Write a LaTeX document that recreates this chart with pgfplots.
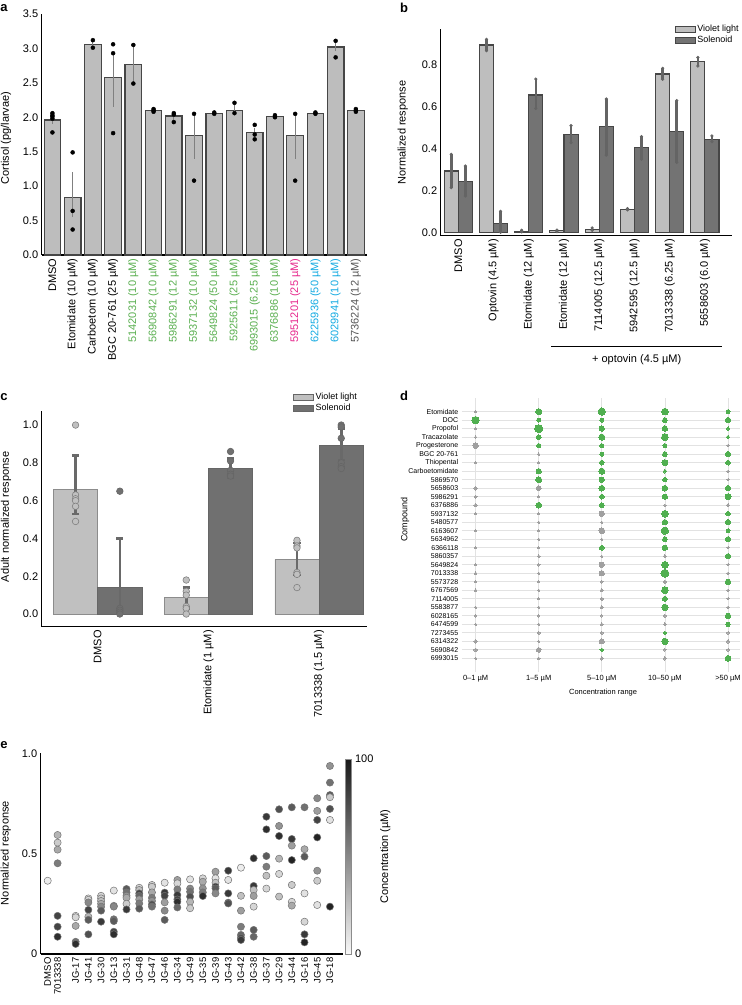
\documentclass[border=0pt]{standalone}
\usepackage{pgfplots}
\pgfplotsset{compat=1.18}
\usepackage{fontspec}
\setmainfont{Liberation Sans}
\newcommand\fs[1]{\fontsize{#1}{#1}\selectfont}
\definecolor{barA}{RGB}{189,189,189}
\definecolor{edgeA}{RGB}{70,70,70}
\definecolor{lgt}{RGB}{190,190,190}
\definecolor{drk}{RGB}{115,115,115}
\definecolor{errB}{RGB}{100,100,100}
\definecolor{lgtC}{RGB}{192,192,192}
\definecolor{drkC}{RGB}{112,112,112}
\definecolor{errC}{RGB}{105,105,105}
\definecolor{gLab}{RGB}{90,175,80}
\definecolor{mLab}{RGB}{230,40,140}
\definecolor{cLab}{RGB}{20,170,225}
\definecolor{kLab}{RGB}{85,85,85}
\definecolor{dGreen}{RGB}{80,175,80}
\definecolor{dGray}{RGB}{160,160,160}
\definecolor{gridc}{RGB}{226,226,226}
\pgfplotsset{
  panel/.style={
    scale only axis,
    anchor=south west,
    axis lines=left,
    axis line style={line width=1.2pt,-},
    major tick length=0pt,
    tick label style={font=\fs{11}},
    label style={font=\fs{11}},
    /pgf/number format/assume math mode=true,
    clip=false,
  },
}
\begin{document}
\begin{tikzpicture}[x=1pt,y=1pt]
\path[use as bounding box] (0,0) rectangle (742,1005);

% ---------------- panel a
\begin{axis}[panel, at={(41.7pt,750pt)}, width=325.3pt, height=241pt,
  xmin=-0.53, xmax=15.55, ymin=0, ymax=3.5,
  ytick={0,0.5,1,1.5,2,2.5,3,3.5},
  yticklabel style={/pgf/number format/.cd,fixed,fixed zerofill,precision=1},
  xtick={0,...,15},
  xticklabels={{DMSO},{Etomidate (10 µM)},{Carboetom (10 µM)},{BGC 20-761 (25 µM)},{\textcolor{gLab}{5142031 (10 µM)}},{\textcolor{gLab}{5690842 (10 µM)}},{\textcolor{gLab}{5986291 (12 µM)}},{\textcolor{gLab}{5937132 (10 µM)}},{\textcolor{gLab}{5649824 (50 µM)}},{\textcolor{gLab}{5925611 (25 µM)}},{\textcolor{gLab}{6993015 (6.25 µM)}},{\textcolor{gLab}{6376886 (10 µM)}},{\textcolor{mLab}{5951201 (25 µM)}},{\textcolor{cLab}{6225936 (50 µM)}},{\textcolor{cLab}{6029941 (10 µM)}},{\textcolor{kLab}{5736224 (12 µM)}}},
  xticklabel style={rotate=90, anchor=east},
  ylabel={Cortisol (pg/larvae)},
  ylabel style={at={(axis description cs:-0.11,0.485)}, anchor=center},
]
\addplot[ybar, bar width=0.82, bar shift=0pt, fill=barA, draw=edgeA, line width=1.2pt,
  error bars/.cd, y dir=both, y explicit, error mark=none,
  error bar style={line width=0.9pt, color=gray}]
  table[x=x, y=y, y error plus=ep, y error minus=em] {
x y ep em
0 1.96 0.05 0.06
1 0.84 0.36 0.29
2 3.06 0.04 0.04
3 2.58 0.35 0.43
4 2.77 0.28 0.28
5 2.10 0.02 0.02
6 2.02 0.03 0.06
7 1.73 0.32 0.33
8 2.06 0.01 0.01
9 2.10 0.11 0.04
10 1.78 0.06 0.06
11 2.01 0.02 0.01
12 1.73 0.32 0.33
13 2.06 0.01 0.01
14 3.02 0.08 0.06
15 2.10 0.02 0.02
};
\addplot[only marks, mark=*, mark size=2pt, black] table {
x y
0 2.06
0 2.03
0 2.01
0 1.98
0 1.78
1 1.49
1 0.64
1 0.37
2 3.12
2 3.01
3 3.06
3 2.93
3 1.77
4 3.05
4 2.49
5 2.12
5 2.10
5 2.08
6 2.06
6 2.04
6 1.93
7 2.05
7 1.08
8 2.07
8 2.05
9 2.21
9 2.06
10 1.89
10 1.75
10 1.68
11 2.03
11 2.00
12 2.05
12 1.08
13 2.07
13 2.05
14 3.11
14 2.87
15 2.12
15 2.10
15 2.08
};
\end{axis}

% ---------------- panel b
\begin{axis}[panel, at={(440.7pt,769.3pt)}, width=291pt, height=206.4pt,
  xmin=-0.5, xmax=7.76, ymin=-0.016, ymax=0.967,
  ytick={0,0.2,0.4,0.6,0.8},
  yticklabel style={/pgf/number format/.cd,fixed,fixed zerofill,precision=1},
  xtick={0,...,7},
  xticklabels={{DMSO},{Optovin (4.5 µM)},{Etomidate (12 µM)},{Etomidate (12 µM)},{7114005 (12.5 µM)},{5942595 (12.5 µM)},{7013338 (6.25 µM)},{5658603 (6.0 µM)}},
  xticklabel style={rotate=90, anchor=east},
  ylabel={Normalized response},
  ylabel style={at={(axis description cs:-0.13,0.5)}, anchor=center},
  legend style={draw=none, fill=none, font=\fs{9}, at={(1.035,1.035)}, anchor=north east, row sep=-1pt, inner sep=1pt},
  legend cell align=left,
]
\addplot[ybar, bar width=0.4, bar shift=0pt, fill=lgt, draw=edgeA, line width=1.1pt, forget plot,
  error bars/.cd, y dir=both, y explicit, error mark=*,
  error mark options={mark size=1.3pt, line width=0.6pt, draw=errB, fill=errB},
  error bar style={line width=2.6pt, color=errB}]
  table[x=x, y=y, y error plus=ep, y error minus=em] {
x y ep em
-0.2 0.292 0.079 0.079
0.8 0.892 0.027 0.027
1.8 0.006 0.004 0.004
2.8 0.007 0.004 0.004
3.8 0.015 0.006 0.006
4.8 0.110 0.003 0.003
5.8 0.754 0.027 0.025
6.8 0.813 0.020 0.021
};
\addplot[ybar, bar width=0.4, bar shift=0pt, fill=drk, draw=edgeA, line width=1.1pt, forget plot,
  error bars/.cd, y dir=both, y explicit, error mark=*,
  error mark options={mark size=1.3pt, line width=0.6pt, draw=errB, fill=errB},
  error bar style={line width=2.6pt, color=errB}]
  table[x=x, y=y, y error plus=ep, y error minus=em] {
x y ep em
0.2 0.241 0.075 0.068
1.2 0.041 0.059 0.041
2.2 0.654 0.076 0.064
3.2 0.468 0.040 0.041
4.2 0.502 0.133 0.134
5.2 0.403 0.053 0.054
6.2 0.479 0.148 0.146
7.2 0.444 0.015 0.012
};
\addlegendimage{legend image code/.code={\draw[fill=lgt, draw=edgeA, line width=0.7pt] (0pt,-3.3pt) rectangle (20pt,3.3pt);}}
\addlegendentry{Violet light}
\addlegendimage{legend image code/.code={\draw[fill=drk, draw=edgeA, line width=0.7pt] (0pt,-3.3pt) rectangle (20pt,3.3pt);}}
\addlegendentry{Solenoid}
\end{axis}
\draw[line width=0.8pt] (551,658.3) -- (721.7,658.3);
\node[font=\fs{11}] at (636.7,645.7) {+ optovin (4.5 µM)};

% ---------------- panel c
\begin{axis}[panel, at={(41.7pt,378.3pt)}, width=325pt, height=216pt,
  xmin=-0.506, xmax=2.43, ymin=-0.067, ymax=1.076,
  ytick={0,0.2,0.4,0.6,0.8,1.0},
  yticklabel style={/pgf/number format/.cd,fixed,fixed zerofill,precision=1},
  xtick={0,1,2},
  xticklabels={{DMSO},{Etomidate (1 µM)},{7013338 (1.5 µM)}},
  xticklabel style={rotate=90, anchor=east},
  ylabel={Adult normalized response},
  ylabel style={at={(axis description cs:-0.11,0.508)}, anchor=center},
  legend style={draw=none, fill=none, font=\fs{9}, at={(0.98,1.096)}, anchor=north east, row sep=-1pt, inner sep=1pt},
  legend cell align=left,
]
\addplot[ybar, bar width=0.4, bar shift=0pt, fill=lgtC, draw=black!45, line width=0.6pt, forget plot,
  error bars/.cd, y dir=both, y explicit, error mark=-,
  error mark options={rotate=90, mark size=3.6pt, line width=2.4pt, draw=errC},
  error bar style={line width=2.6pt, color=errC}]
  table[x=x, y=y, y error plus=ep, y error minus=em] {
x y ep em
-0.2 0.660 0.178 0.131
0.8 0.088 0.052 0.058
1.8 0.289 0.088 0.083
};
\addplot[ybar, bar width=0.4, bar shift=0pt, fill=drkC, draw=black!60, line width=0.6pt, forget plot,
  error bars/.cd, y dir=both, y explicit, error mark=-,
  error mark options={rotate=90, mark size=3.6pt, line width=2.4pt, draw=errC},
  error bar style={line width=2.6pt, color=errC}]
  table[x=x, y=y, y error plus=ep, y error minus=em] {
x y ep em
0.2 0.141 0.258 0.141
1.2 0.771 0.053 0.051
2.2 0.894 0.088 0.079
};
\addplot[only marks, mark=*, mark size=3.3pt, mark options={fill=lgtC, draw=black!50, line width=0.6pt}, forget plot] table {
x y
-0.2 1.00
-0.2 0.63
-0.2 0.61
-0.2 0.60
-0.2 0.57
-0.2 0.49
0.8 0.18
0.8 0.12
0.8 0.10
0.8 0.04
0.8 0.03
0.8 0.00
1.8 0.39
1.8 0.36
1.8 0.35
1.8 0.22
1.8 0.21
1.8 0.14
};
\addplot[only marks, mark=*, mark size=3.3pt, mark options={fill=drkC, draw=black!60, line width=0.6pt}, forget plot] table {
x y
0.2 0.65
0.2 0.03
0.2 0.02
0.2 0.01
0.2 0.00
1.2 0.86
1.2 0.81
1.2 0.76
1.2 0.74
1.2 0.73
2.2 1.00
2.2 0.99
2.2 0.93
2.2 0.80
2.2 0.78
2.2 0.77
};
\addlegendimage{legend image code/.code={\draw[fill=lgtC, draw=black!60, line width=0.7pt] (0pt,-3.3pt) rectangle (20pt,3.3pt);}}
\addlegendentry{Violet light}
\addlegendimage{legend image code/.code={\draw[fill=drkC, draw=black!60, line width=0.7pt] (0pt,-3.3pt) rectangle (20pt,3.3pt);}}
\addlegendentry{Solenoid}
\end{axis}

% ---------------- panel d
\begin{axis}[scale only axis, anchor=south west, at={(461.7pt,333pt)}, width=278.3pt, height=274pt,
  xmin=-0.22, xmax=4.19, ymin=-1.6, ymax=30.6, y dir=reverse,
  axis line style={draw=none}, major tick length=0pt,
  grid=major, grid style={line width=0.8pt, draw=gridc},
  xtick={0,...,4}, xticklabels={{0–1 µM},{1–5 µM},{5–10 µM},{10–50 µM},{>50 µM}},
  ytick={0,...,29},
  yticklabels={{Etomidate},{DOC},{Propofol},{Tracazolate},{Progesterone},{BGC 20-761},{Thiopental},{Carboetomidate},{5869570},{5658603},{5986291},{6376886},{5937132},{5480577},{6163607},{5634962},{6366118},{5860357},{5649824},{7013338},{5573728},{6767569},{7114005},{5583877},{6028165},{6474599},{7273455},{6314322},{5690842},{6993015}},
  xticklabel style={font=\fs{7.5}},
  yticklabel style={font=\fs{7}},
  xlabel={Concentration range}, ylabel={Compound},
  xlabel style={font=\fs{7.5}, at={(axis description cs:0.508,-0.0755)}, anchor=center},
  ylabel style={font=\fs{9}, at={(axis description cs:-0.204,0.555)}, anchor=center},
  clip=false]
\addplot[scatter, only marks, mark=*, draw=dGray, fill=dGray,
  scatter/use mapped color={draw=dGray, fill=dGray, line width=0pt},
  visualization depends on={\thisrow{d}/6 \as \ms},
  scatter/@pre marker code/.append style={/tikz/mark size=\ms, /tikz/draw=dGray, /tikz/fill=dGray, /tikz/line width=0pt}]
  table[x=x, y=y] {
x y d
0 0 7
0 2 7
0 3 7
0 4 16
4 4 7
1 5 7
0 6 7
1 6 7
4 7 7
4 8 7
0 9 11
1 9 14
0 10 9
1 10 7
0 11 10
3 11 7
4 11 9
0 12 7
1 12 7
2 12 16
1 13 7
2 13 7
0 14 7
1 14 7
2 14 17
1 15 7
2 15 7
0 16 7
1 16 6
4 16 7
1 17 8
2 17 7
3 17 9
0 18 7
1 18 8
2 18 16
4 18 7
0 19 8
1 19 7
2 19 16
4 19 7
0 20 6
1 20 6
2 20 8
3 20 10
0 21 8
1 21 7
2 21 10
4 21 7
1 22 7
2 22 10
4 22 7
0 23 7
1 23 7
2 23 10
4 23 7
0 24 7
1 24 7
2 24 7
3 24 9
0 25 7
1 25 7
2 25 9
3 25 9
1 26 9
2 26 9
4 26 7
0 27 11
1 27 7
2 27 15
4 27 11
0 28 11
1 28 14
3 28 7
4 28 7
0 29 7
1 29 8
2 29 10
3 29 10
};
\addplot[scatter, only marks, mark=*, draw=dGreen, fill=dGreen,
  scatter/use mapped color={draw=dGreen, fill=dGreen, line width=0pt},
  visualization depends on={\thisrow{d}/6 \as \ms},
  scatter/@pre marker code/.append style={/tikz/mark size=\ms, /tikz/draw=dGreen, /tikz/fill=dGreen, /tikz/line width=0pt}]
  table[x=x, y=y] {
x y d
1 0 18
2 0 22
3 0 20
4 0 12
0 1 22
1 1 12
2 1 12
3 1 14
4 1 16
1 2 24
2 2 16
3 2 16
4 2 10
1 3 14
2 3 18
3 3 20
4 3 10
1 4 13
2 4 12
3 4 12
2 5 12
3 5 14
4 5 16
2 6 14
3 6 18
4 6 14
1 7 16
2 7 18
3 7 11
1 8 18
2 8 16
3 8 13
2 9 17
3 9 17
4 9 16
2 10 14
3 10 16
4 10 18
1 11 17
2 11 14
3 12 20
4 12 13
3 13 16
4 13 16
3 14 22
4 14 12
3 15 14
4 15 16
2 16 14
3 16 16
4 17 16
3 18 20
3 19 24
4 20 16
3 21 20
3 22 15
3 23 19
4 24 16
4 25 13
3 26 11
3 27 19
2 28 11
4 29 17
};
\end{axis}

% ---------------- panel e
\begin{axis}[panel, at={(40.7pt,51pt)}, width=302.6pt, height=200.7pt,
  xmin=-0.75, xmax=23.05, ymin=0, ymax=1,
  ytick={0,0.5,1}, yticklabels={0,0.5,1.0},
  xtick={-0.2,0.58,2,3,4,5,6,7,8,9,10,11,12,13,14,15,16,17,18,19,20,21,22},
  xticklabels={DMSO,7013338,JG-17,JG-41,JG-30,JG-13,JG-31,JG-48,JG-47,JG-46,JG-34,JG-49,JG-35,JG-39,JG-43,JG-42,JG-38,JG-37,JG-29,JG-44,JG-16,JG-45,JG-18},
  xticklabel style={rotate=90, anchor=east, font=\fs{9.5}},
  ylabel={Normalized response},
  ylabel style={at={(axis description cs:-0.115,0.503)}, anchor=center},
  colormap={grays}{rgb255=(248,248,248) rgb255=(25,25,25)},
  point meta min=0, point meta max=100,
  colorbar,
  colorbar shift/.style={xshift=1.7pt},
  colorbar style={at={(parent axis.south east)}, anchor=south west,
    width=6.5pt, height=195pt, ytick={0,100}, major tick length=0pt,
    yticklabel style={font=\fs{11}}, axis line style={draw=black!45, line width=0.5pt},
    ylabel={Concentration (µM)}, ylabel style={font=\fs{11}},
    /pgf/number format/assume math mode=true},
]
\addplot[scatter, only marks, mark=*, mark size=3.6pt, point meta=explicit,
  scatter/use mapped color={draw=black!55, fill=mapped color, line width=0.5pt}]
  table[x=x, y=y, meta=c] {
x y c
-0.2 0.365 5
0.58 0.593 30
0.58 0.555 20
0.58 0.52 35
0.58 0.452 55
0.58 0.19 80
0.58 0.136 80
0.58 0.086 90
2 0.19 10
2 0.183 15
2 0.14 35
2 0.061 60
2 0.05 90
3 0.277 10
3 0.27 15
3 0.257 50
3 0.22 80
3 0.186 30
3 0.17 70
3 0.098 75
4 0.29 15
4 0.277 20
4 0.264 25
4 0.25 35
4 0.236 50
4 0.216 70
4 0.161 85
5 0.316 10
5 0.24 40
5 0.236 50
5 0.173 60
5 0.164 70
5 0.111 80
5 0.098 90
6 0.324 70
6 0.307 60
6 0.29 45
6 0.28 35
6 0.25 20
6 0.222 85
7 0.33 15
7 0.319 25
7 0.302 80
7 0.29 65
7 0.272 40
7 0.252 55
7 0.226 70
8 0.344 15
8 0.335 20
8 0.307 35
8 0.28 55
8 0.264 45
8 0.247 75
8 0.236 60
9 0.355 10
9 0.306 85
9 0.29 80
9 0.257 40
9 0.216 50
9 0.17 70
10 0.369 40
10 0.352 15
10 0.322 55
10 0.294 85
10 0.272 80
10 0.26 90
10 0.232 65
11 0.372 10
11 0.326 50
11 0.31 60
11 0.286 75
11 0.26 30
11 0.228 20
12 0.377 15
12 0.36 35
12 0.327 45
12 0.307 55
12 0.289 90
13 0.41 40
13 0.377 10
13 0.355 25
13 0.335 85
13 0.327 70
13 0.302 50
14 0.415 85
14 0.369 10
14 0.302 85
14 0.256 65
14 0.252 75
15 0.43 5
15 0.29 25
15 0.216 40
15 0.136 55
15 0.095 65
15 0.081 75
15 0.07 85
16 0.477 90
16 0.339 85
16 0.319 25
16 0.289 40
16 0.236 15
16 0.12 70
16 0.086 65
17 0.684 85
17 0.621 90
17 0.488 70
17 0.435 55
17 0.39 25
17 0.326 15
18 0.721 75
18 0.638 45
18 0.588 90
18 0.475 30
18 0.399 15
18 0.286 25
19 0.731 70
19 0.573 85
19 0.54 40
19 0.468 95
19 0.344 20
19 0.26 15
19 0.241 35
20 0.731 60
20 0.522 35
20 0.485 70
20 0.302 10
20 0.161 15
20 0.098 85
20 0.058 95
21 0.776 50
21 0.713 40
21 0.668 80
21 0.581 95
21 0.415 45
21 0.365 20
21 0.244 10
22 0.937 45
22 0.854 60
22 0.792 70
22 0.781 20
22 0.723 75
22 0.668 10
22 0.236 95
};
\end{axis}

% panel letters
\node[font=\bfseries\fs{13}] at (4,997) {a};
\node[font=\bfseries\fs{13}] at (404,997) {b};
\node[font=\bfseries\fs{13}] at (4,608) {c};
\node[font=\bfseries\fs{13}] at (404,609) {d};
\node[font=\bfseries\fs{13}] at (4,260) {e};
\end{tikzpicture}
\end{document}
